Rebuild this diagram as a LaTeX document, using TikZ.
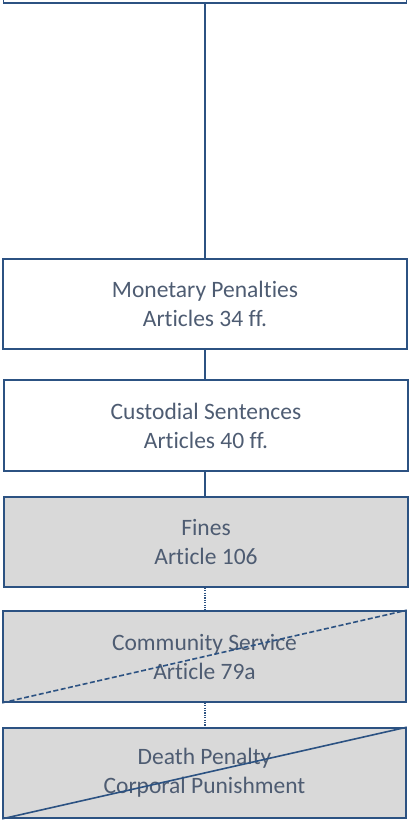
\documentclass[tikz,border=0pt]{standalone}
\usepackage{fontspec}
\setmainfont{Carlito}[Ligatures=NoCommon]
\definecolor{edge}{RGB}{44,82,130}
\definecolor{txt}{RGB}{78,92,114}
\definecolor{grayfill}{RGB}{217,217,217}
\begin{document}
\begin{tikzpicture}[x=1pt,y=1pt,
  box/.style={draw=edge,line width=1.6pt,rectangle,minimum width=403pt,minimum height=90pt,
    align=center,text=txt,font=\fontsize{23.5}{29}\selectfont,inner sep=0pt},
  greybox/.style={box,fill=grayfill},
  link/.style={draw=edge,line width=1.6pt},
  dotlink/.style={draw=edge,line width=1.6pt,dash pattern=on 1.2pt off 1.2pt},
  cross/.style={draw=edge,line width=1.6pt}]
\useasboundingbox (0,0) rectangle (410,-821);
\node[box,minimum height=74pt] (top) at (205,34) {};
\node[box,minimum width=404pt] (mon) at (205,-304) {Monetary Penalties\\Articles 34 ff.};
\node[box,minimum width=404pt,minimum height=91pt] (cus) at (206,-425.5) {Custodial Sentences\\Articles 40 ff.};
\node[greybox,minimum width=404pt] (fin) at (206,-542) {Fines\\Article 106};
\node[greybox,minimum height=91pt] (com) at (204.5,-656.5) {Community Service\\Article 79a};
\node[greybox] (dea) at (204.5,-773) {Death Penalty\\Corporal Punishment};
\draw[link] (top.south) -- (top.south |- mon.north);
\draw[link] (mon.south) -- (mon.south |- cus.north);
\draw[link] (mon.south |- cus.south) -- (mon.south |- fin.north);
\draw[dotlink] (mon.south |- fin.south) -- (mon.south |- com.north);
\draw[dotlink] (mon.south |- com.south) -- (mon.south |- dea.north);
\draw[cross,dash pattern=on 5pt off 2.5pt] (com.south west) -- (com.north east);
\draw[cross] (dea.south west) -- (dea.north east);
\end{tikzpicture}
\end{document}
